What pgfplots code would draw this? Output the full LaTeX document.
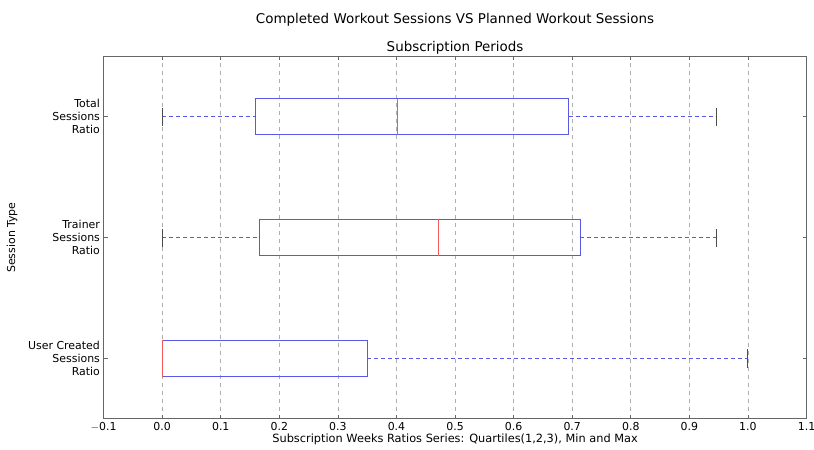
\documentclass[border=0pt]{standalone}
\usepackage{pgfplots}
\pgfplotsset{compat=1.18}
\usepackage{fontspec}
\setmainfont{DejaVu Sans}
\definecolor{boxblue}{rgb}{0.35,0.35,0.9}
\definecolor{medred}{rgb}{0.95,0.35,0.35}
\definecolor{gridgray}{rgb}{0.68,0.68,0.68}
\definecolor{axgray}{rgb}{0.4,0.4,0.4}
\definecolor{capgray}{rgb}{0.3,0.3,0.3}
\begin{document}
\begin{tikzpicture}
\begin{axis}[
  scale only axis,
  width=703.5bp, height=363bp,
  xmin=-0.1, xmax=1.1, ymin=0.5, ymax=3.5,
  xtick={-0.1,0,0.1,0.2,0.3,0.4,0.5,0.6,0.7,0.8,0.9,1.0,1.1},
  xticklabels={$-$0.1,0.0,0.1,0.2,0.3,0.4,0.5,0.6,0.7,0.8,0.9,1.0,1.1},
  ytick={1,2,3},
  yticklabels={{User Created\\Sessions\\Ratio},{Trainer\\Sessions\\Ratio},{Total\\Sessions\\Ratio}},
  /pgf/number format/assume math mode=true,
  axis line style={color=axgray, line width=0.9bp},
  tick align=inside,
  major tick length=4bp,
  tick style={color=axgray, line width=0.6bp},
  xmajorgrids,
  major grid style={color=gridgray, line width=0.8bp, dash pattern=on 4bp off 4bp},
  ticklabel style={font=\fontsize{11}{13}\selectfont},
  xticklabel style={inner sep=0pt, yshift=-3bp},
  yticklabel style={align=right, inner sep=0pt, xshift=-3.5bp},
  every axis x label/.style={at={(axis description cs:0.5,0)}, anchor=center, yshift=-20bp, font=\fontsize{11.4}{13}\selectfont},
  every axis y label/.style={at={(axis description cs:-0.130,0.5)}, rotate=90, anchor=center, font=\fontsize{11}{13}\selectfont},
  xlabel={Subscription Weeks Ratios Series: Quartiles(1,2,3), Min and Max},
  ylabel={Session Type},
  title={Subscription Periods},
  title style={at={(axis description cs:0.5,1)}, anchor=base, yshift=-1bp, font=\fontsize{13.5}{15}\selectfont},
  boxln/.style={color=boxblue, line width=1.1bp, solid, mark=none},
  whisk/.style={color=boxblue, line width=1.1bp, dash pattern=on 4bp off 3bp, mark=none},
  capln/.style={color=capgray, line width=0.9bp, solid, mark=none},
  medln/.style={color=medred, line width=1.1bp, solid, mark=none},
]
% ---- boxes: (Q1,Q3) at positions 1 (User Created), 2 (Trainer), 3 (Total)
\addplot[boxln] coordinates {(0.0,0.85) (0.350,0.85) (0.350,1.15) (0.0,1.15) (0.0,0.85)};
\addplot[boxln] coordinates {(0.166,1.85) (0.714,1.85) (0.714,2.15) (0.166,2.15) (0.166,1.85)};
\addplot[boxln] coordinates {(0.160,2.85) (0.694,2.85) (0.694,3.15) (0.160,3.15) (0.160,2.85)};
% ---- whiskers (min to Q1, Q3 to max)
\addplot[whisk] coordinates {(0.350,1) (1.0,1)};
\addplot[whisk] coordinates {(0.0,2) (0.166,2)};
\addplot[whisk] coordinates {(0.714,2) (0.946,2)};
\addplot[whisk] coordinates {(0.0,3) (0.160,3)};
\addplot[whisk] coordinates {(0.694,3) (0.946,3)};
% ---- caps at min and max
\addplot[capln] coordinates {(0.0,0.925) (0.0,1.075)};
\addplot[capln] coordinates {(1.0,0.925) (1.0,1.075)};
\addplot[capln] coordinates {(0.0,1.925) (0.0,2.075)};
\addplot[capln] coordinates {(0.946,1.925) (0.946,2.075)};
\addplot[capln] coordinates {(0.0,2.925) (0.0,3.075)};
\addplot[capln] coordinates {(0.946,2.925) (0.946,3.075)};
% ---- medians
\addplot[medln] coordinates {(0.0,0.85) (0.0,1.15)};
\addplot[medln] coordinates {(0.471,1.85) (0.471,2.15)};
\addplot[medln] coordinates {(0.402,2.85) (0.402,3.15)};
\end{axis}
\node[anchor=base, font=\fontsize{13.5}{15}\selectfont] at ([yshift=33bp]current axis.north) {Completed Workout Sessions VS Planned Workout Sessions};
\pgfresetboundingbox
\path ([shift={(-103.7bp,-31bp)}]current axis.south west) rectangle ([shift={(7.5bp,56.3bp)}]current axis.north east);
\end{tikzpicture}
\end{document}
